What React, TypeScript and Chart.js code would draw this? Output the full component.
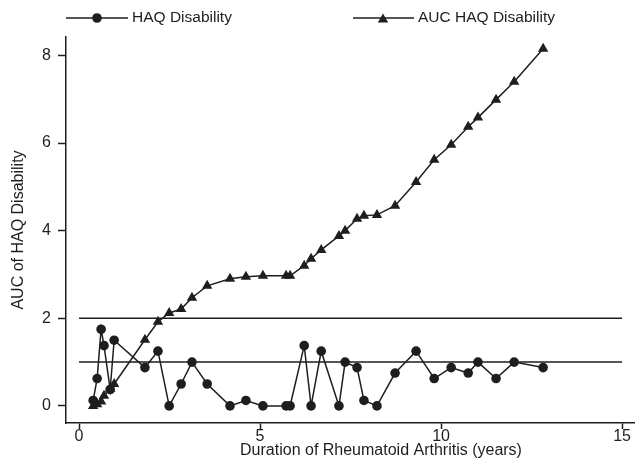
import React, { useEffect, useRef } from "react";
import { Chart, registerables } from "chart.js";

Chart.register(...registerables);

const durationYears = [0.39, 0.5, 0.61, 0.69, 0.86, 0.97, 1.82, 2.18, 2.49, 2.82, 3.12, 3.54, 4.17, 4.61, 5.08, 5.72, 5.83, 6.22, 6.41, 6.69, 7.18, 7.35, 7.68, 7.87, 8.23, 8.73, 9.31, 9.81, 10.28, 10.75, 11.02, 11.52, 12.02, 12.82];
const haqDisability = [0.125, 0.625, 1.75, 1.375, 0.375, 1.5, 0.875, 1.25, 0, 0.5, 1, 0.5, 0, 0.125, 0, 0, 0, 1.375, 0, 1.25, 0, 1, 0.875, 0.125, 0, 0.75, 1.25, 0.625, 0.875, 0.75, 1, 0.625, 1, 0.875];
const aucHaqDisability = [0, 0.04, 0.1, 0.23, 0.39, 0.5, 1.51, 1.92, 2.12, 2.21, 2.47, 2.74, 2.9, 2.95, 2.97, 2.97, 2.97, 3.2, 3.36, 3.56, 3.88, 4.0, 4.27, 4.34, 4.36, 4.57, 5.11, 5.62, 5.96, 6.37, 6.58, 6.99, 7.4, 8.15];
const refLineX = [0, 15];
const refLevels = [1, 2];
const xTicks = [0, 5, 10, 15];
const yTicks = [0, 2, 4, 6, 8];
const seriesNames = ["HAQ Disability", "AUC HAQ Disability"];
const xTitle = "Duration of Rheumatoid Arthritis (years)";
const yTitle = "AUC of HAQ Disability";

const INK = "#1e1e1e";
const FONT = "'Liberation Sans', Arial, sans-serif";

export default function App() {
  const ref = useRef<HTMLCanvasElement | null>(null);

  useEffect(() => {
    document.body.style.margin = "0";
    const canvas = ref.current;
    if (!canvas) return;

    const legendPlugin = {
      id: "customLegend",
      afterDraw(chart: any) {
        const ctx = chart.ctx;
        ctx.save();
        ctx.strokeStyle = INK;
        ctx.fillStyle = INK;
        ctx.lineWidth = 1.5;
        const y = 18;
        ctx.beginPath();
        ctx.moveTo(66, y);
        ctx.lineTo(128, y);
        ctx.stroke();
        ctx.beginPath();
        ctx.arc(97, y, 4.8, 0, Math.PI * 2);
        ctx.fill();
        ctx.beginPath();
        ctx.moveTo(353, y);
        ctx.lineTo(414, y);
        ctx.stroke();
        const r = 6;
        const cy = y + 1.5;
        ctx.beginPath();
        ctx.moveTo(383, cy - r);
        ctx.lineTo(383 + r * Math.sin((2 * Math.PI) / 3), cy + r / 2);
        ctx.lineTo(383 - r * Math.sin((2 * Math.PI) / 3), cy + r / 2);
        ctx.closePath();
        ctx.fill();
        ctx.font = `15.5px ${FONT}`;
        ctx.textBaseline = "middle";
        ctx.textAlign = "left";
        ctx.fillText(seriesNames[0], 132, y);
        ctx.fillText(seriesNames[1], 418, y);
        // x axis title
        ctx.font = `16px ${FONT}`;
        ctx.textAlign = "center";
        ctx.fillText(xTitle, 381, 451);
        ctx.restore();
      },
    };

    const refDatasets = refLevels.map((lv) => ({
      label: "ref" + lv,
      data: refLineX.map((x) => ({ x, y: lv })),
      borderColor: INK,
      borderWidth: 1.5,
      pointRadius: 0,
      showLine: true,
      fill: false,
    }));

    const chart = new Chart(canvas, {
      type: "scatter",
      data: {
        datasets: [
          ...refDatasets,
          {
            label: seriesNames[1],
            data: durationYears.map((x, i) => ({ x, y: aucHaqDisability[i] })),
            borderColor: INK,
            backgroundColor: INK,
            borderWidth: 1.5,
            pointStyle: "triangle",
            pointRadius: 6,
            pointBorderWidth: 0,
            showLine: true,
          },
          {
            label: seriesNames[0],
            data: durationYears.map((x, i) => ({ x, y: haqDisability[i] })),
            borderColor: INK,
            backgroundColor: INK,
            borderWidth: 1.5,
            pointStyle: "circle",
            pointRadius: 4.8,
            pointBorderWidth: 0,
            showLine: true,
          },
        ] as any,
      },
      plugins: [legendPlugin],
      options: {
        animation: false,
        responsive: false,
        devicePixelRatio: 1,
        layout: { padding: { top: 37, right: 7, left: 0, bottom: 0 } },
        plugins: { legend: { display: false }, tooltip: { enabled: false } },
        scales: {
          x: {
            type: "linear",
            min: -0.36,
            max: 15.33,
            afterBuildTicks: (s: any) => {
              s.ticks = xTicks.map((v) => ({ value: v }));
            },
            afterFit: (s: any) => {
              s.height = 38;
            },
            grid: { drawOnChartArea: false, tickLength: 6, color: INK, tickWidth: 1.5 },
            border: { display: true, color: INK, width: 1.5 },
            ticks: { color: INK, font: { family: FONT, size: 16 }, padding: -2, maxRotation: 0 },
            title: { display: false },
          },
          y: {
            type: "linear",
            min: -0.39,
            max: 8.42,
            afterBuildTicks: (s: any) => {
              s.ticks = yTicks.map((v) => ({ value: v }));
            },
            afterFit: (s: any) => {
              s.width = 66;
            },
            grid: { drawOnChartArea: false, tickLength: 8, color: INK, tickWidth: 1.5 },
            border: { display: true, color: INK, width: 1.5 },
            ticks: { color: INK, font: { family: FONT, size: 16 }, padding: 7 },
            title: {
              display: true,
              text: yTitle,
              color: INK,
              font: { family: FONT, size: 16 },
              padding: { top: 9, bottom: 0 },
            },
          },
        },
      } as any,
    });

    return () => chart.destroy();
  }, []);

  return (
    <div style={{ width: 641, height: 461 }}>
      <canvas ref={ref} width={641} height={461} style={{ display: "block", width: 641, height: 461 }} />
    </div>
  );
}
